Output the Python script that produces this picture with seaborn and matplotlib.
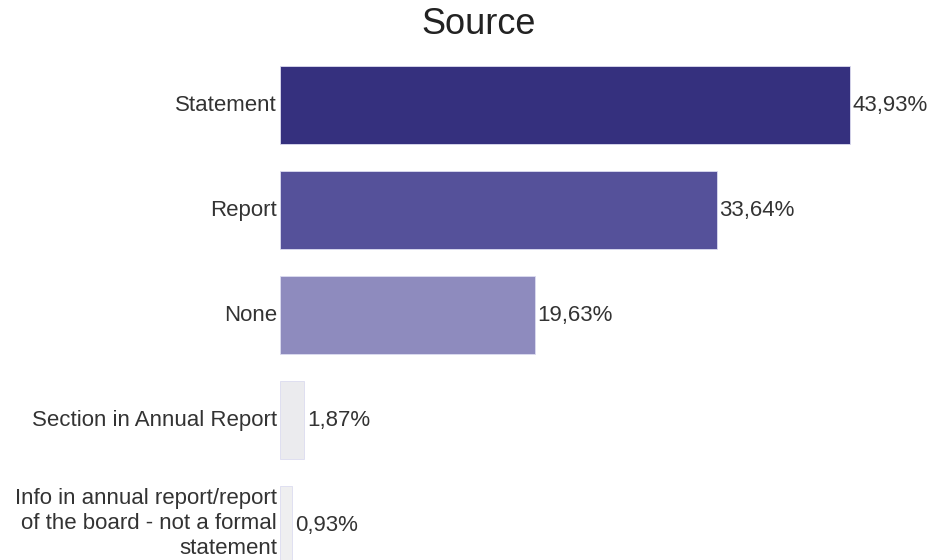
import matplotlib
matplotlib.use("Agg")
import matplotlib.pyplot as plt
import seaborn as sns
import pandas as pd

categories = [
    "Statement",
    "Report",
    "None",
    "Section in Annual Report",
    "Info in annual report/report\nof the board - not a formal\nstatement",
]
shares = [43.93, 33.64, 19.63, 1.87, 0.93]
value_labels = ["43,93%", "33,64%", "19,63%", "1,87%", "0,93%"]
bar_colors = ["#35307e", "#55519a", "#8e8bbe", "#ebebee", "#efeff0"]

sns.set_theme(style="white")
plt.rcParams["font.family"] = ["Liberation Sans", "DejaVu Sans"]

df = pd.DataFrame({"category": categories, "share": shares})

fig = plt.figure(figsize=(9.3, 5.6), dpi=100)
ax = fig.add_axes([280 / 930, 0.0, 649 / 930, 500 / 560])

sns.barplot(
    data=df, x="share", y="category", hue="category",
    palette=bar_colors, order=categories, hue_order=categories,
    width=0.743, saturation=1, legend=False, ax=ax,
    edgecolor="#dcdcf0", linewidth=0.6,
)

ax.set_xlim(0, 50)
ax.set_ylim(4.33, -0.43)
ax.set_xlabel("")
ax.set_ylabel("")
ax.set_xticks([])
ax.set_yticks(range(len(categories)))
ax.set_yticklabels([])
ax.tick_params(axis="y", length=0)
for s in ax.spines.values():
    s.set_visible(False)

# category names, right-aligned just left of the bars
for i, cat in enumerate(categories):
    dy = 2 if "\n" in cat else 0
    ax.annotate(cat, xy=(0, i), xytext=(-3, dy), textcoords="offset pixels",
                ha="right", va="center", fontsize=16, color="#333333",
                linespacing=1.25, annotation_clip=False)

for i, (v, lab) in enumerate(zip(shares, value_labels)):
    ax.text(v + 0.2, i, lab, va="center", ha="left", fontsize=16,
            color="#333333", clip_on=False)

fig.text(479 / 930, 1 - 25 / 560, "Source", ha="center", va="center",
         fontsize=26, color="#222222")

fig.savefig("out.png", dpi=100)
